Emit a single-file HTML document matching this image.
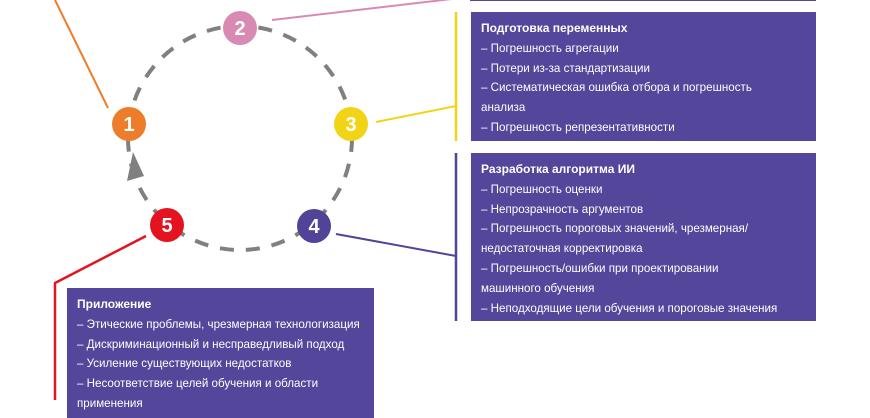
<!DOCTYPE html>
<html><head><meta charset="utf-8"><style>
body{margin:0;width:870px;height:400px;overflow:hidden;background:#fff;position:relative;font-family:"Liberation Sans","Noto Sans CJK SC",sans-serif}
.box{position:absolute;background:#54469a;color:#fff;font-size:11.6px;line-height:19.8px;padding:7px 10px;box-sizing:border-box;white-space:nowrap;overflow:hidden}
.box b{font-size:12px}
svg{position:absolute;left:0;top:0}
</style></head><body>
<svg width="870" height="400">
<circle cx="240" cy="138" r="112" fill="none" stroke="#808080" stroke-width="4" stroke-dasharray="14 12"/>
<polygon points="133,152 127,181 144,176" fill="#808080"/>
<line x1="55" y1="0" x2="108" y2="108" stroke="#ee7d2b" stroke-width="2"/>
<line x1="272" y1="20" x2="460" y2="-2" stroke="#d98ab3" stroke-width="2"/>
<line x1="376" y1="122" x2="456" y2="106" stroke="#f2d417" stroke-width="2"/>
<line x1="456" y1="12" x2="456" y2="141" stroke="#f2d417" stroke-width="2.5"/>
<line x1="336" y1="234" x2="456" y2="256" stroke="#514398" stroke-width="2"/>
<line x1="456" y1="153" x2="456" y2="321" stroke="#514398" stroke-width="2.5"/>
<polyline points="146,236 55,283 55,400" fill="none" stroke="#e3141f" stroke-width="2.5"/>
<g font-family="Liberation Sans,sans-serif" font-weight="bold" font-size="20" fill="#fff" text-anchor="middle">
<circle cx="129" cy="124" r="17" fill="#ee7d2b"/><text x="129" y="131">1</text>
<circle cx="240" cy="28" r="17" fill="#d98ab3"/><text x="240" y="35">2</text>
<circle cx="351" cy="124" r="17" fill="#f2d417"/><text x="351" y="131">3</text>
<circle cx="314" cy="226" r="17" fill="#514398"/><text x="314" y="233">4</text>
<circle cx="167" cy="225" r="17" fill="#e3141f"/><text x="167" y="232">5</text>
</g>
</svg>
<div class="box" style="left:470px;top:-20px;width:346px;height:21px"></div>
<div class="box" style="left:471px;top:12px;width:345px;height:129px"><b>Подготовка переменных</b><br>– Погрешность агрегации<br>– Потери из-за стандартизации<br>– Систематическая ошибка отбора и погрешность<br>анализа<br>– Погрешность репрезентативности</div>
<div class="box" style="left:471px;top:153px;width:345px;height:168px"><b>Разработка алгоритма ИИ</b><br>– Погрешность оценки<br>– Непрозрачность аргументов<br>– Погрешность пороговых значений, чрезмерная/<br>недостаточная корректировка<br>– Погрешность/ошибки при проектировании<br>машинного обучения<br>– Неподходящие цели обучения и пороговые значения</div>
<div class="box" style="left:67px;top:288px;width:307px;height:130px"><b>Приложение</b><br>– Этические проблемы, чрезмерная технологизация<br>– Дискриминационный и несправедливый подход<br>– Усиление существующих недостатков<br>– Несоответствие целей обучения и области<br>применения</div>
</body></html>
